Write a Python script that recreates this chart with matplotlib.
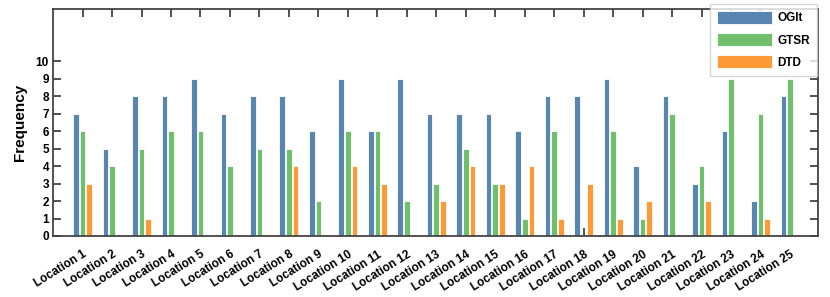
import matplotlib
matplotlib.use("Agg")
import matplotlib.pyplot as plt
import numpy as np

plt.rcParams['font.family'] = ['Liberation Sans', 'DejaVu Sans']

categories = [f"Location {i}" for i in range(1, 26)]
ogit = [7, 5, 8, 8, 9, 7, 8, 8, 6, 9, 6, 9, 7, 7, 7, 6, 8, 8, 9, 4, 8, 3, 6, 2, 8]
gtsr = [6, 4, 5, 6, 6, 4, 5, 5, 2, 6, 6, 2, 3, 5, 3, 1, 6, 0, 6, 1, 7, 4, 9, 7, 9]
dtd = [3, 0, 1, 0, 0, 0, 0, 4, 0, 4, 3, 0, 2, 4, 3, 4, 1, 3, 1, 2, 0, 2, 0, 1, 0]
series_names = ["OGIt", "GTSR", "DTD"]
colors = ["#5886b0", "#70bf6b", "#fe9a35"]

fig = plt.figure(figsize=(8.3, 2.97), dpi=100)
ax = fig.add_axes([0.064, 0.2054, 0.9215, 0.7646])

x = np.arange(len(categories))
w = 0.19
off = 0.225
for i, (vals, name, c) in enumerate(zip([ogit, gtsr, dtd], series_names, colors)):
    ax.bar(x + (i - 1) * off, vals, width=w, color=c, edgecolor='white',
           linewidth=0.6, label=name, zorder=2)

ax.set_xlim(-1.0, 24.95)
ax.set_ylim(0, 13)
ax.set_yticks(range(0, 11))
ax.set_xticks(x)
ax.set_xticklabels(categories, rotation=32, ha='right', rotation_mode='anchor',
                   fontsize=8.5, fontweight='bold')
for lbl in ax.get_yticklabels():
    lbl.set_fontweight('bold')
    lbl.set_fontsize(8.5)
ax.tick_params(axis='both', direction='in', top=True, right=True, length=6,
               width=1.2, color='#333333')
ax.tick_params(axis='x', pad=9)
ax.tick_params(axis='y', pad=3)
ax.set_ylabel("Frequency", fontsize=11, fontweight='bold', labelpad=6)
for s in ax.spines.values():
    s.set_linewidth(1.3)
    s.set_color('#444444')

leg = ax.legend(loc='upper right', bbox_to_anchor=(0.999, 1.022), frameon=True,
                fancybox=False, handlelength=4.6, handleheight=1.3,
                prop={'weight': 'bold', 'size': 8.5}, borderaxespad=0.0,
                labelspacing=0.75, borderpad=0.6, handletextpad=0.5)
leg.get_frame().set_edgecolor('#cccccc')
leg.get_frame().set_linewidth(1.0)
leg.set_zorder(5)

fig.savefig("out.png", dpi=100)
